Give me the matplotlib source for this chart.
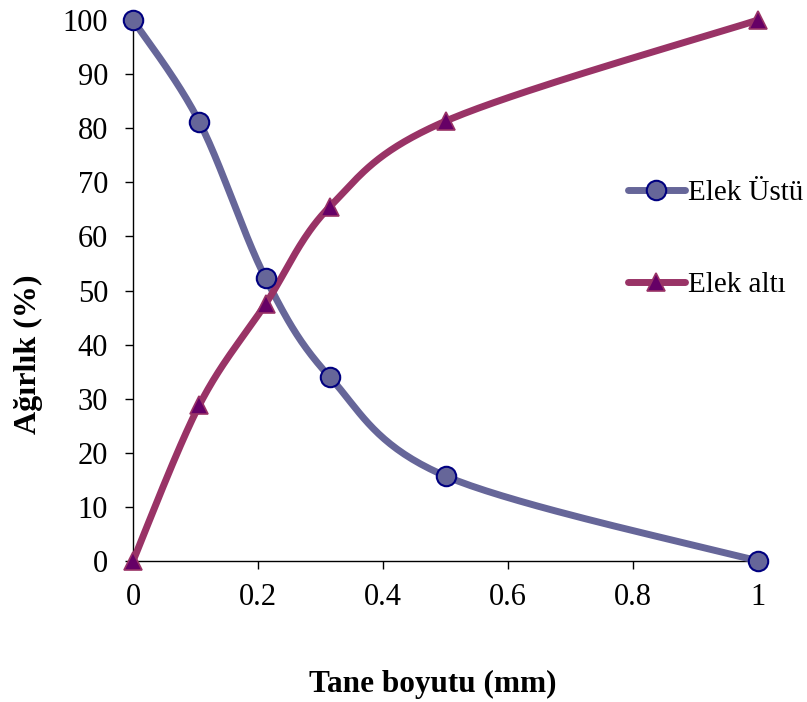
import numpy as np
import matplotlib
matplotlib.use("Agg")
import matplotlib.pyplot as plt
from matplotlib.lines import Line2D

# Sieve analysis data
tane_boyutu = [0.0, 0.106, 0.212, 0.315, 0.5, 1.0]
elek_ustu = [100.0, 81.2, 52.3, 34.0, 15.7, 0.0]
elek_alti = [0.0, 28.8, 47.5, 65.5, 81.3, 100.0]

x_ticks = [0, 0.2, 0.4, 0.6, 0.8, 1]
x_tick_labels = ["0", "0.2", "0.4", "0.6", "0.8", "1"]
y_ticks = list(range(0, 101, 10))

plt.rcParams["font.family"] = ["Liberation Serif", "DejaVu Serif"]

fig = plt.figure(figsize=(8.07, 7.02), dpi=100)
ax = fig.add_axes([133 / 807, 1 - 561 / 702, 625 / 807, 541 / 702])
ax.set_xlim(0, 1)
ax.set_ylim(0, 100)


def smooth(ax, xs, ys, n=40):
    """Catmull-Rom style smoothing computed in display space."""
    pts = ax.transData.transform(np.column_stack([xs, ys]))
    p = np.vstack([pts[0], pts, pts[-1]])
    out = []
    for i in range(1, len(p) - 2):
        p0, p1, p2, p3 = p[i - 1], p[i], p[i + 1], p[i + 2]
        c1 = p1 + (p2 - p0) / 6.0
        c2 = p2 - (p3 - p1) / 6.0
        t = np.linspace(0, 1, n)[:, None]
        seg = ((1 - t) ** 3) * p1 + 3 * ((1 - t) ** 2) * t * c1 + 3 * (1 - t) * t ** 2 * c2 + t ** 3 * p2
        out.append(seg if i == 1 else seg[1:])
    out = np.vstack(out)
    back = ax.transData.inverted().transform(out)
    return back[:, 0], back[:, 1]


c_ustu = "#666699"
c_alti = "#993366"
lw = 5.0
ms_c = 14
ms_t = 13.5

sx, sy = smooth(ax, tane_boyutu, elek_ustu)
ax.plot(sx, sy, color=c_ustu, lw=lw, solid_capstyle="round", zorder=3, clip_on=False)
sx, sy = smooth(ax, tane_boyutu, elek_alti)
ax.plot(sx, sy, color=c_alti, lw=lw, solid_capstyle="round", zorder=3, clip_on=False)

ax.plot(tane_boyutu, elek_ustu, ls="none", marker="o", ms=ms_c, mfc=c_ustu,
        mec="#000080", mew=1.5, zorder=4, clip_on=False)
ax.plot(tane_boyutu, elek_alti, ls="none", marker="^", ms=ms_t, mfc="#660066",
        mec=c_alti, mew=1.2, zorder=4, clip_on=False)

for s in ["top", "right"]:
    ax.spines[s].set_visible(False)
for s in ["left", "bottom"]:
    ax.spines[s].set_linewidth(1.0)

ax.set_xticks(x_ticks)
ax.set_xticklabels(x_tick_labels)
ax.set_yticks(y_ticks)
ax.tick_params(axis="both", direction="out", length=6, width=1, labelsize=22)
ax.tick_params(axis="y", pad=12)
ax.tick_params(axis="x", pad=10)

fig.text(433 / 807, 1 - 684 / 702, "Tane boyutu (mm)", ha="center", va="center",
         fontsize=22.5, fontweight="bold")
fig.text(28 / 807, 1 - 354 / 702, "Ağırlık (%)", ha="center", va="center",
         rotation=90, fontsize=23, fontweight="bold")

handles = [
    Line2D([], [], color=c_ustu, lw=lw, marker="o", ms=ms_c, mfc=c_ustu,
           mec="#000080", mew=1.5, solid_capstyle="round"),
    Line2D([], [], color=c_alti, lw=lw, marker="^", ms=ms_t, mfc="#660066",
           mec=c_alti, mew=1.2, solid_capstyle="round"),
]
fig.legend(handles, ["Elek Üstü", "Elek altı"], loc="center left",
           bbox_to_anchor=(628 / 807, 1 - 239 / 702), frameon=False,
           fontsize=21, handlelength=1.95, handletextpad=0.1,
           labelspacing=2.25, borderpad=0, borderaxespad=0)

fig.savefig("out.png", dpi=100)
